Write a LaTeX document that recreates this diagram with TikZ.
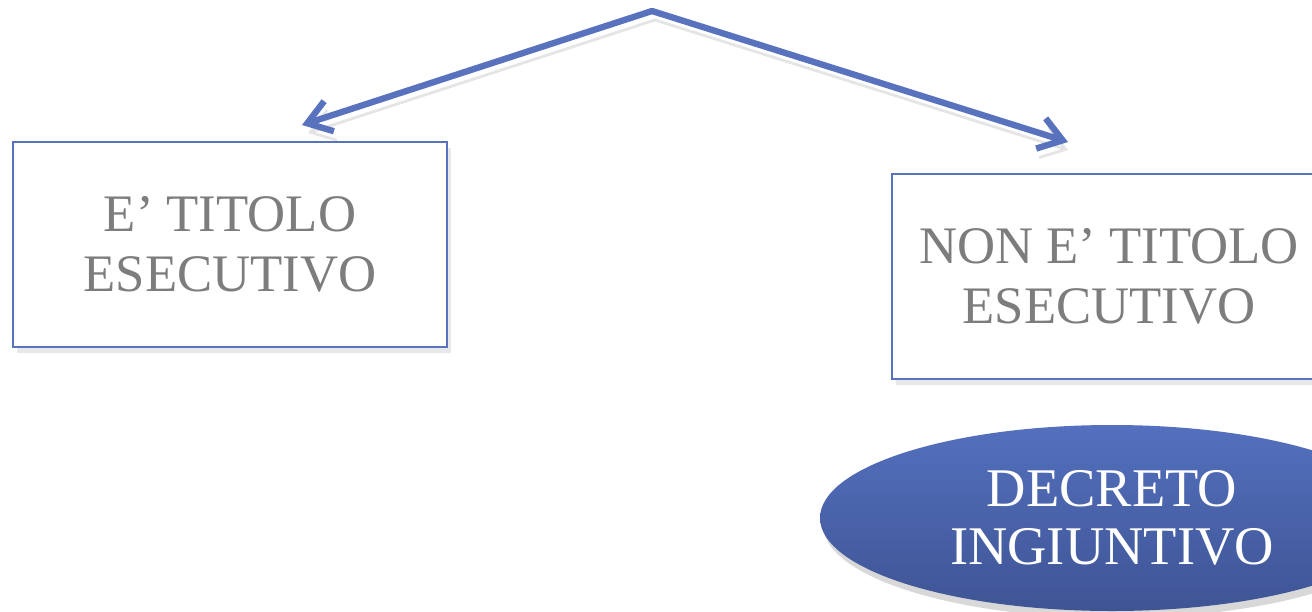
\documentclass[tikz,border=0pt]{standalone}
\usepackage{fontspec}
\setmainfont{Liberation Serif}
\usetikzlibrary{arrows.meta,shapes.geometric,shadows}

\definecolor{slideblue}{RGB}{88,114,190}
\definecolor{ovaltop}{RGB}{84,112,190}
\definecolor{ovalbottom}{RGB}{62,84,148}
\definecolor{titlegrey}{RGB}{125,125,125}

\begin{document}
\begin{tikzpicture}[x=0.1mm,y=-0.1mm,thick,
  link/.style={draw=slideblue,line width=1.8pt,line cap=round,line join=round,
    -{Straight Barb[length=6.5pt,width=9pt]},
    preaction={draw=black,opacity=0.1,transform canvas={xshift=0.3mm,yshift=-0.9mm}}},
  title box/.style={rectangle,draw=slideblue,line width=0.75pt,fill=white,
    minimum width=43.4mm,minimum height=20.5mm,align=center,
    text=titlegrey,font=\fontsize{15}{17.2}\selectfont,
    drop shadow={opacity=0.18,shadow xshift=0.4mm,shadow yshift=-0.6mm}},
  decree node/.style={ellipse,top color=ovaltop,bottom color=ovalbottom,draw=none,
    minimum width=58.4mm,minimum height=18.6mm,inner sep=0pt,align=center,
    text=white,font=\fontsize{15.5}{16.6}\selectfont,
    drop shadow={opacity=0.3,shadow xshift=0.3mm,shadow yshift=-0.7mm}}]

  \useasboundingbox (0,0) rectangle (1312,611);
  \clip (0,0) rectangle (1312,611);
  \fill[white] (0,0) rectangle (1312,611);

  \coordinate (apex) at (652,11);
  \coordinate (left tip) at (302,125);
  \coordinate (right tip) at (1068,142);

  \node[title box] (titolo) at (230,244.5) {E’ TITOLO\\ESECUTIVO};
  \node[title box] (non titolo) at (1109,276.5) {NON E’ TITOLO\\ESECUTIVO};
  \node[decree node] (decreto) at (1112,518) {DECRETO\\INGIUNTIVO};

  \draw[link] (apex) -- (left tip);
  \draw[link] (apex) -- (right tip);
\end{tikzpicture}
\end{document}
